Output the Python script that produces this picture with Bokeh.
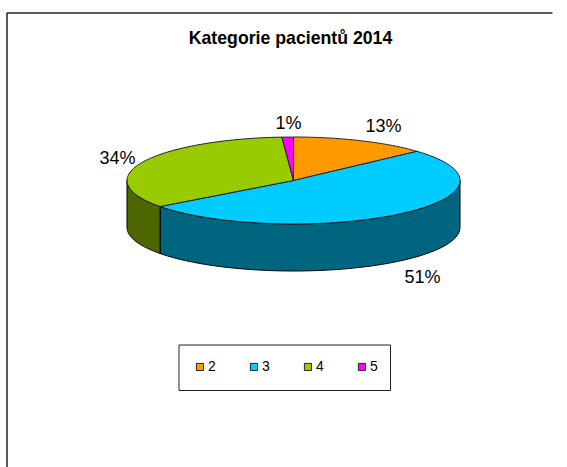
import numpy as np
from bokeh.plotting import figure
from bokeh.models import Legend, LegendItem
from bokeh.embed import file_html
from bokeh.resources import INLINE
from bokeh.core.properties import value

title = "Kategorie pacientů 2014"
categories = ["2", "3", "4", "5"]
shares = [13.3, 51.49, 34.1, 1.11]
top_colors = ["#FF9900", "#00CCFF", "#99CC00", "#FF00FF"]
side_colors = ["#804D00", "#006680", "#4D6600", "#800080"]
label_pos = [(383, 125), (422, 276), (117, 157), (288, 122)]

CX, CY, RX, RY, DEPTH = 293, 180, 166.5, 43.5, 47

p = figure(width=567, height=467, x_range=(0, 567), y_range=(467, 0),
           output_backend="svg", toolbar_location=None, min_border=0,
           outline_line_color=None, background_fill_color="white")
p.axis.visible = False
p.grid.visible = False


def arc(a0, a1, dy=0.0, n=80):
    t = np.radians(np.linspace(a0, a1, n))
    return CX + RX * np.sin(t), CY - RY * np.cos(t) + dy


# chart frame
p.line([6.5, 6.5], [467, 12.5], line_color="#222222", line_width=1.5)
p.line([6.5, 552], [12.5, 12.5], line_color="#222222", line_width=1.5)

edges = np.concatenate([[0], np.cumsum(shares)]) / sum(shares) * 360

# side wall (visible near part only)
for i in range(len(shares)):
    a0, a1 = max(edges[i], 90), min(edges[i + 1], 270)
    if a1 <= a0:
        continue
    x0, y0 = arc(a0, a1)
    x1, y1 = arc(a1, a0, DEPTH)
    p.patch(np.r_[x0, x1], np.r_[y0, y1], fill_color=side_colors[i],
            line_color="black", line_width=1)

# top face
items = []
for i, c in enumerate(categories):
    x, y = arc(edges[i], edges[i + 1])
    r = p.patch(np.r_[CX, x], np.r_[CY, y], fill_color=top_colors[i],
                line_color="#222222", line_width=1)
    items.append(LegendItem(label=c, renderers=[r]))

# percentage labels
for v, (lx, ly) in zip(shares, label_pos):
    p.text([lx], [ly], text=[f"{round(v)}%"], text_align="center", text_baseline="middle",
           text_font=value("Liberation Sans"), text_font_size="18px", text_color="black")

p.text([290], [37.5], text=[title], text_align="center", text_baseline="middle",
       text_font=value("Liberation Sans"), text_font_size="17.7px", text_font_style="bold",
       text_color="black")

# legend box
p.quad(left=[178.5], right=[390], top=[344.5], bottom=[390], fill_color="white",
       line_color="#222222", line_width=1)

legend = Legend(items=items, orientation="horizontal", location=(195, 93),
                glyph_width=9, glyph_height=9, label_standoff=4, spacing=21,
                padding=0, margin=0, border_line_color=None,
                background_fill_alpha=0,
                label_text_font="Liberation Sans", label_text_font_size="14px",
                label_text_color="black")
p.add_layout(legend, "center")

open("out.html", "w").write(file_html(p, INLINE))
